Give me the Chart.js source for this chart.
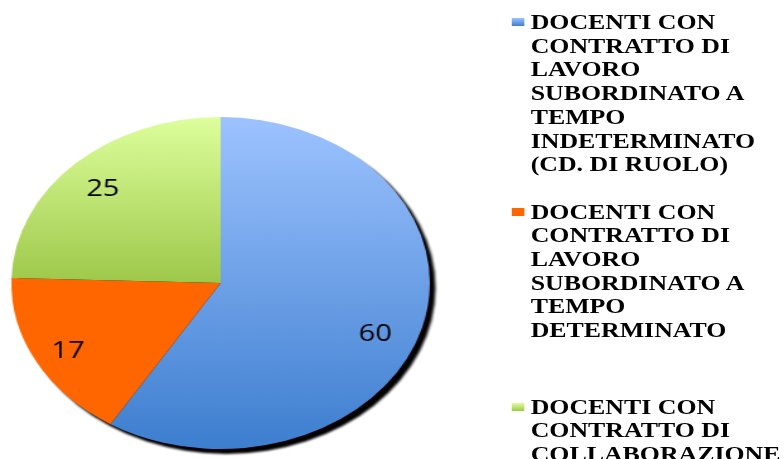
<!DOCTYPE html>
<html>
<head>
<meta charset="utf-8">
<script src="https://cdn.jsdelivr.net/npm/chart.js@4"></script>
<style>
  body { margin: 0; width: 784px; height: 459px; overflow: hidden; background: #fff; }
  #wrap { position: absolute; left: 0; top: 0; width: 622px; height: 459px;
          transform: scale(1.2605, 1); transform-origin: 0 0; }
  #pie { position: absolute; left: 0; top: 0; }
  .item { position: absolute; left: 406px; }
  .mark { position: absolute; left: 0; top: 6px; width: 10px; height: 8px; }
  .line { position: absolute; left: 15px; white-space: nowrap;
          font: bold 20.5px "Liberation Serif", "Times New Roman", serif;
          line-height: 20.5px; color: #000; }
</style>
</head>
<body>
<div id="wrap">
  <canvas id="pie" width="350" height="459"></canvas>
  <div id="legend"></div>
</div>
<script>
// legend text as it wraps in the picture
const labelLines = [
    ["DOCENTI CON", "CONTRATTO DI", "LAVORO", "SUBORDINATO A", "TEMPO", "INDETERMINATO", "(CD. DI RUOLO)"],
    ["DOCENTI CON", "CONTRATTO DI", "LAVORO", "SUBORDINATO A", "TEMPO", "DETERMINATO"],
    ["DOCENTI CON", "CONTRATTO DI", "COLLABORAZIONE"]
];
const labels = labelLines.map(l => l.join(" "));
const values = [60, 17, 25];

// top / bottom colour of each slice's gradient
const topColors = ["#9dc3ff", "#ff6600", "#ddff9c"];
const bottomColors = ["#3d7ecf", "#ff6600", "#9ec84a"];

const legendTops = [12, 201.5, 396.5];
const linePitch = 23.7;
// small nudges of the value labels (best-fit placement in the original)
const labelNudge = [[-5, 15], [-4, 6], [-1, 2]];

function sliceFill(context) {
    const chart = context.chart;
    const i = context.dataIndex;
    const area = chart.chartArea;
    if (!area || !isFinite(area.top) || !isFinite(area.bottom)) return topColors[i];
    const cy = (area.top + area.bottom) / 2;
    const r = Math.min(area.right - area.left, area.bottom - area.top) / 2;
    // green slice only spans the upper half, blue the full height
    const y0 = cy - r;
    const y1 = i === 2 ? cy : cy + r;
    const g = chart.ctx.createLinearGradient(0, y0, 0, y1);
    g.addColorStop(0, topColors[i]);
    g.addColorStop(1, bottomColors[i]);
    return g;
}

const shadowPlugin = {
    id: "shadow",
    beforeDatasetsDraw(chart) {
        const arc = chart.getDatasetMeta(0).data[0];
        if (!arc) return;
        const { x, y, outerRadius } = arc.getProps(["x", "y", "outerRadius"], true);
        const ctx = chart.ctx;
        ctx.save();
        ctx.filter = "blur(1.3px)";
        ctx.fillStyle = "#000";
        ctx.beginPath();
        ctx.arc(x + 4.5, y + 5, outerRadius, 0, Math.PI * 2);
        ctx.fill();
        ctx.restore();
    }
};

const valueLabels = {
    id: "valueLabels",
    afterDatasetsDraw(chart) {
        const ctx = chart.ctx;
        const meta = chart.getDatasetMeta(0);
        ctx.save();
        ctx.font = '23px "Open Sans", sans-serif';
        ctx.fillStyle = "#000";
        ctx.textAlign = "center";
        ctx.textBaseline = "middle";
        meta.data.forEach((arc, i) => {
            const p = arc.getProps(["x", "y", "startAngle", "endAngle", "outerRadius"], true);
            const a = (p.startAngle + p.endAngle) / 2;
            const r = p.outerRadius * 0.8;
            ctx.fillText(String(values[i]),
                p.x + Math.cos(a) * r + labelNudge[i][0],
                p.y + Math.sin(a) * r + labelNudge[i][1]);
        });
        ctx.restore();
    }
};

// html legend, one div per wrapped line
const legend = document.getElementById("legend");
labelLines.forEach((lines, i) => {
    const item = document.createElement("div");
    item.className = "item";
    item.style.top = legendTops[i] + "px";
    const mark = document.createElement("div");
    mark.className = "mark";
    mark.style.background = `linear-gradient(${topColors[i]}, ${bottomColors[i]})`;
    item.appendChild(mark);
    lines.forEach((text, k) => {
        const line = document.createElement("div");
        line.className = "line";
        line.style.top = (k * linePitch) + "px";
        line.textContent = text;
        item.appendChild(line);
    });
    legend.appendChild(item);
});

const chart = new Chart(document.getElementById("pie").getContext("2d"), {
    type: "pie",
    data: {
        labels: labels,
        datasets: [{
            data: values,
            backgroundColor: sliceFill,
            borderWidth: 0,
            hoverOffset: 0
        }]
    },
    options: {
        responsive: false,
        animation: false,
        layout: { padding: { top: 117, bottom: 10, left: 9, right: 9 } },
        plugins: {
            legend: { display: false },
            tooltip: { enabled: false }
        }
    },
    plugins: [shadowPlugin, valueLabels]
});
</script>
</body>
</html>
